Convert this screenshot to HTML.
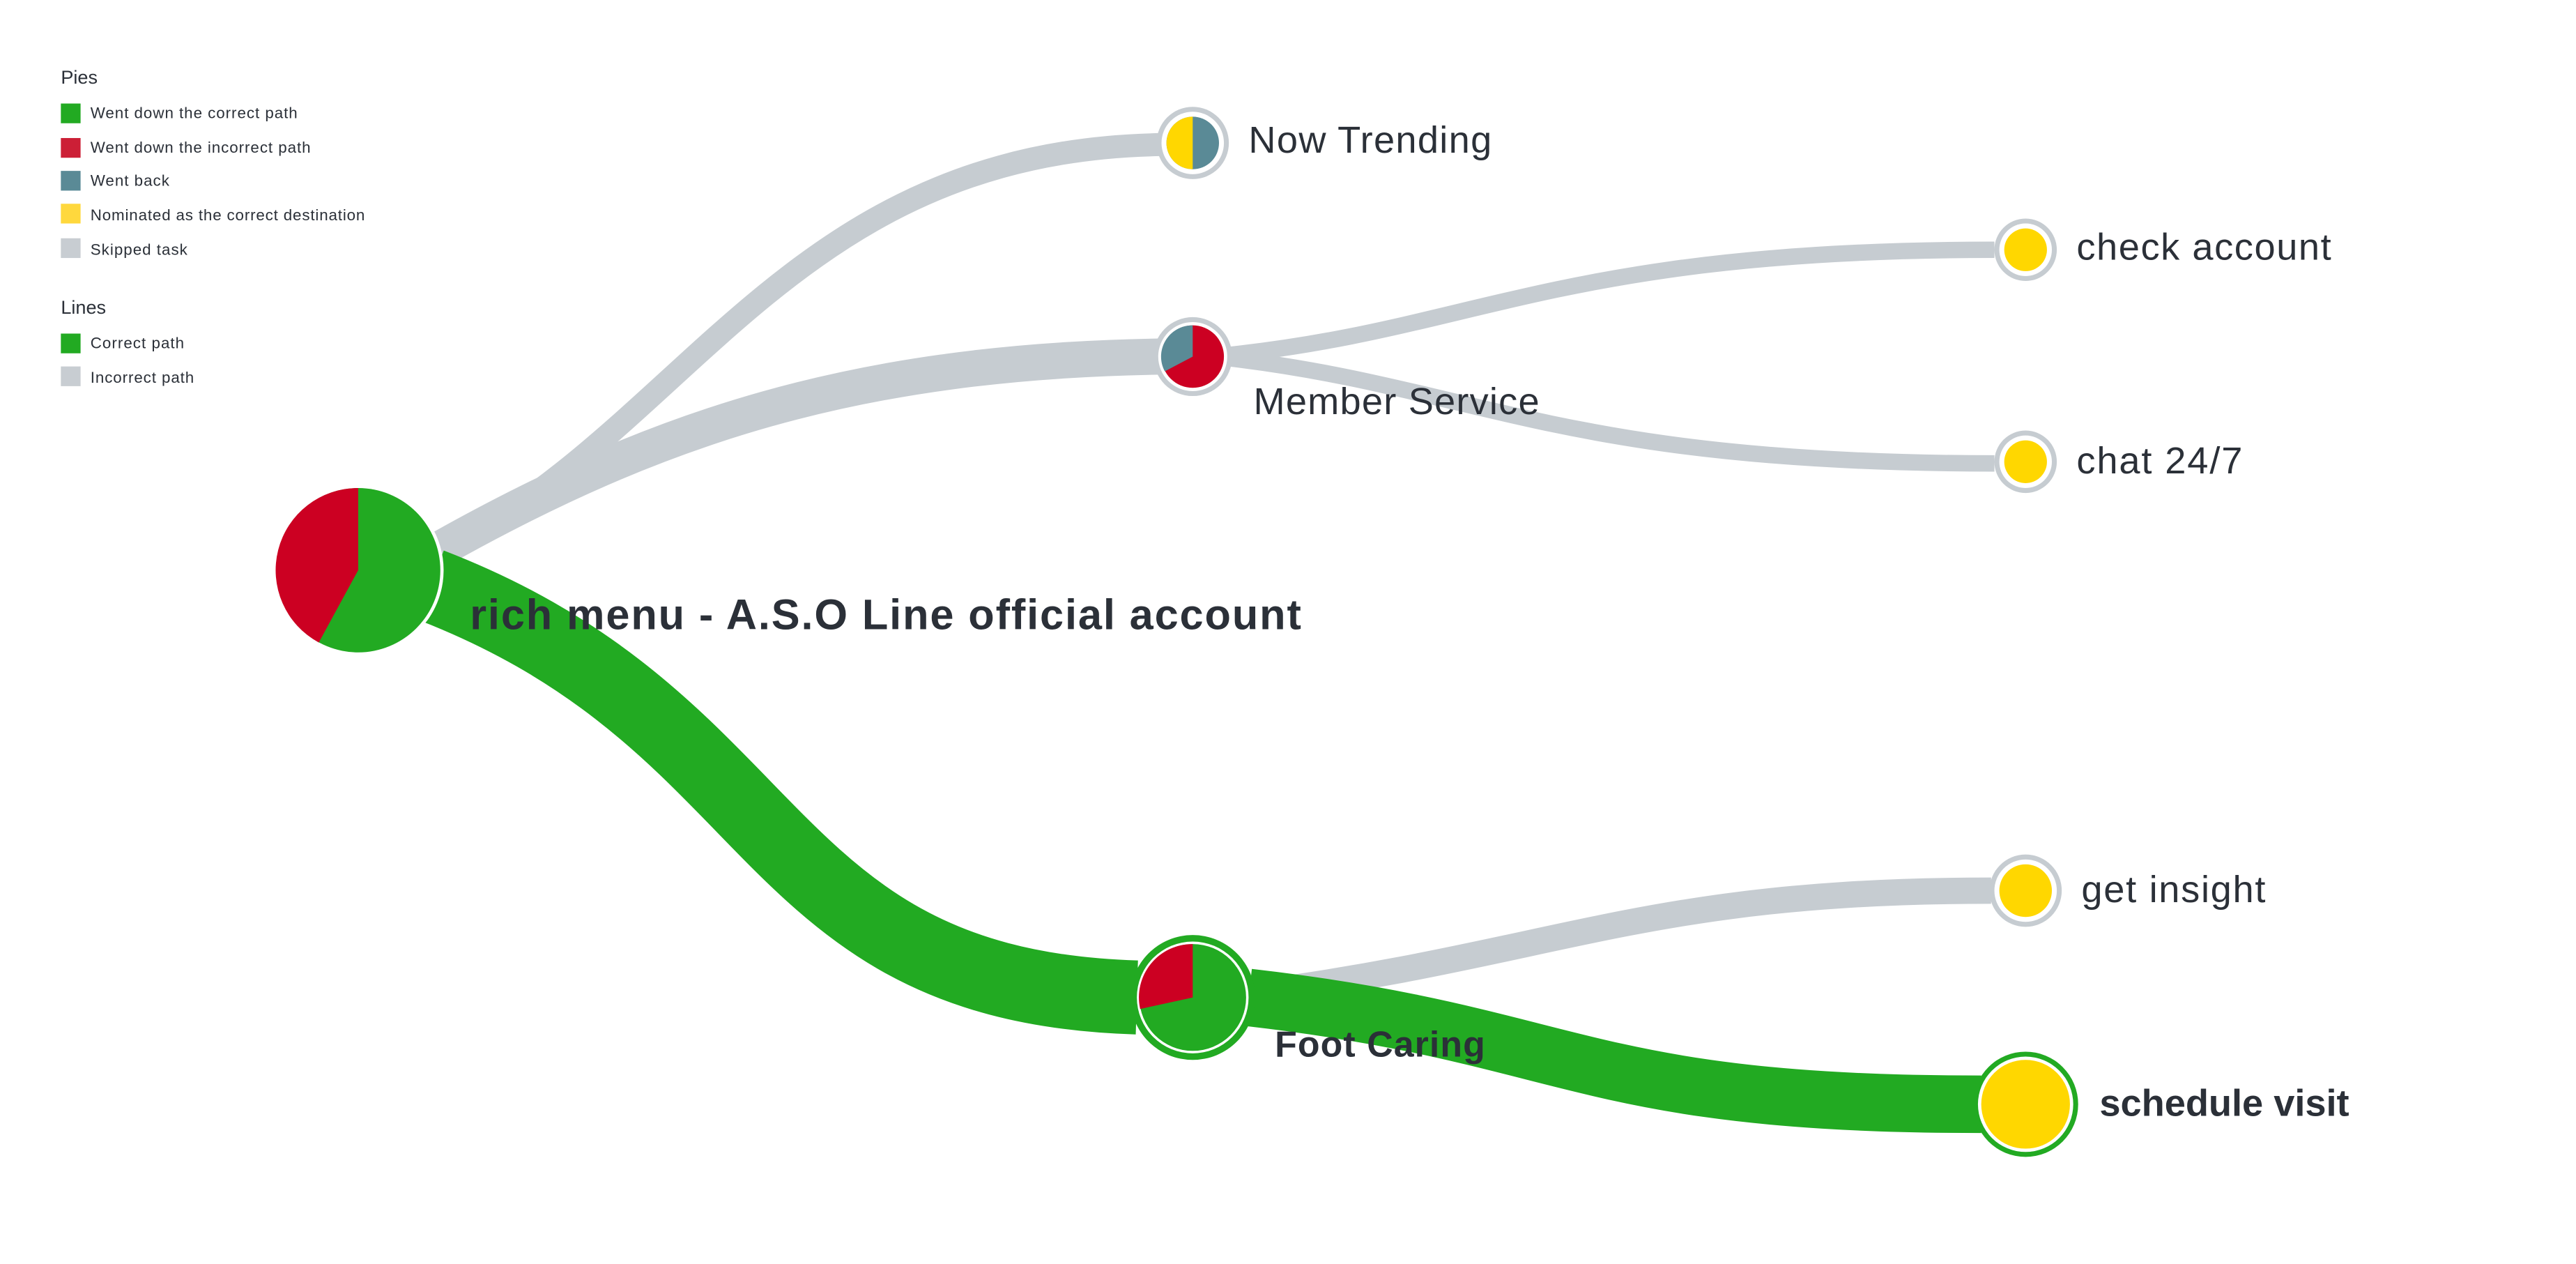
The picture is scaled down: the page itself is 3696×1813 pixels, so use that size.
<!DOCTYPE html>
<html><head><meta charset="utf-8"><style>
html,body{margin:0;padding:0;background:#fff;}
svg{display:block;}
text{font-family:"Liberation Sans",sans-serif;fill:#2b3038;}
</style></head><body>
<svg width="3696" height="1813" viewBox="0 0 1568 769.2" xmlns="http://www.w3.org/2000/svg">
<!-- legend -->
<text x="37" y="51" font-size="11.5">Pies</text>
<rect x="37" y="63" width="12" height="12" fill="#22aa22"/><text x="55" y="72" font-size="9.5" textLength="126">Went down the correct path</text>
<rect x="37" y="84" width="12" height="12" fill="#cc1f36"/><text x="55" y="93" font-size="9.5" textLength="134">Went down the incorrect path</text>
<rect x="37" y="104" width="12" height="12" fill="#5a8a96"/><text x="55" y="113" font-size="9.5" textLength="48">Went back</text>
<rect x="37" y="124" width="12" height="12" fill="#ffd83d"/><text x="55" y="134" font-size="9.5" textLength="167">Nominated as the correct destination</text>
<rect x="37" y="145" width="12" height="12" fill="#c8cdd2"/><text x="55" y="155" font-size="9.5" textLength="59">Skipped task</text>
<text x="37" y="191" font-size="11.5">Lines</text>
<rect x="37" y="203" width="12" height="12" fill="#22aa22"/><text x="55" y="212" font-size="9.5" textLength="57">Correct path</text>
<rect x="37" y="223" width="12" height="12" fill="#c8cdd2"/><text x="55" y="233" font-size="9.5" textLength="63">Incorrect path</text>

<!-- links -->
<g fill="none" stroke-linecap="butt">
<path d="M268 336 C 420 260, 480 92, 706 88" stroke="#c6ccd1" stroke-width="14"/>
<path d="M268 334 C 400 260, 520 220, 706 217" stroke="#c6ccd1" stroke-width="22"/>
<path d="M748 216 C 900 200, 950 152, 1214 152" stroke="#c6ccd1" stroke-width="10"/>
<path d="M748 218 C 900 236, 950 282, 1214 282" stroke="#c6ccd1" stroke-width="10"/>
<path d="M760 605 C 950 580, 1000 542, 1212 542" stroke="#c6ccd1" stroke-width="16"/>
<path d="M262 356 C 480 440, 460 600, 692 607" stroke="#22aa22" stroke-width="45"/>
<path d="M760 607 C 960 630, 960 672, 1206 672" stroke="#22aa22" stroke-width="35"/>
</g>

<!-- root pie -->
<circle cx="218" cy="347" r="52" fill="#fff"/>
<circle cx="218" cy="347" r="50" fill="#22aa22"/>
<path d="M218 347 L218 297 A50 50 0 0 0 194 391 Z" fill="#cc0022"/>
<text x="286" y="383" font-size="26" font-weight="bold" textLength="506">rich menu - A.S.O Line official account</text>

<!-- Now Trending -->
<circle cx="726" cy="87" r="22" fill="#c6ccd1"/>
<circle cx="726" cy="87" r="19" fill="#fff"/>
<circle cx="726" cy="87" r="16" fill="#5a8a96"/>
<path d="M726 71 A16 16 0 0 0 726 103 Z" fill="#ffd700"/>
<text x="760" y="93" font-size="23" textLength="148">Now Trending</text>

<!-- Member Service -->
<circle cx="726" cy="217" r="24" fill="#c6ccd1"/>
<circle cx="726" cy="217" r="21" fill="#fff"/>
<circle cx="726" cy="217" r="19" fill="#cc0022"/>
<path d="M726 217 L726 198 A19 19 0 0 0 709 226 Z" fill="#5a8a96"/>
<text x="763" y="252" font-size="23" textLength="174">Member Service</text>

<!-- check account / chat -->
<circle cx="1233" cy="152" r="19" fill="#c6ccd1"/>
<circle cx="1233" cy="152" r="16" fill="#fff"/>
<circle cx="1233" cy="152" r="13" fill="#ffd700"/>
<text x="1264" y="158" font-size="23" textLength="155">check account</text>
<circle cx="1233" cy="281" r="19" fill="#c6ccd1"/>
<circle cx="1233" cy="281" r="16" fill="#fff"/>
<circle cx="1233" cy="281" r="13" fill="#ffd700"/>
<text x="1264" y="288" font-size="23" textLength="101">chat 24/7</text>

<!-- Foot Caring -->
<circle cx="726" cy="607" r="38" fill="#22aa22"/>
<circle cx="726" cy="607" r="34" fill="#fff"/>
<circle cx="726" cy="607" r="32.5" fill="#22aa22"/>
<path d="M726 607 L726 574.5 A32.5 32.5 0 0 0 694 614 Z" fill="#cc0022"/>
<text x="776" y="643" font-size="22" font-weight="bold" textLength="128">Foot Caring</text>

<!-- get insight -->
<circle cx="1233" cy="542" r="22" fill="#c6ccd1"/>
<circle cx="1233" cy="542" r="19" fill="#fff"/>
<circle cx="1233" cy="542" r="16" fill="#ffd700"/>
<text x="1267" y="549" font-size="23" textLength="112">get insight</text>

<!-- schedule visit -->
<circle cx="1233" cy="672" r="32" fill="#22aa22"/>
<circle cx="1233" cy="672" r="29" fill="#fff"/>
<circle cx="1233" cy="672" r="27" fill="#ffd700"/>
<text x="1278" y="679" font-size="23" font-weight="bold" textLength="152">schedule visit</text>
</svg>
</body></html>
